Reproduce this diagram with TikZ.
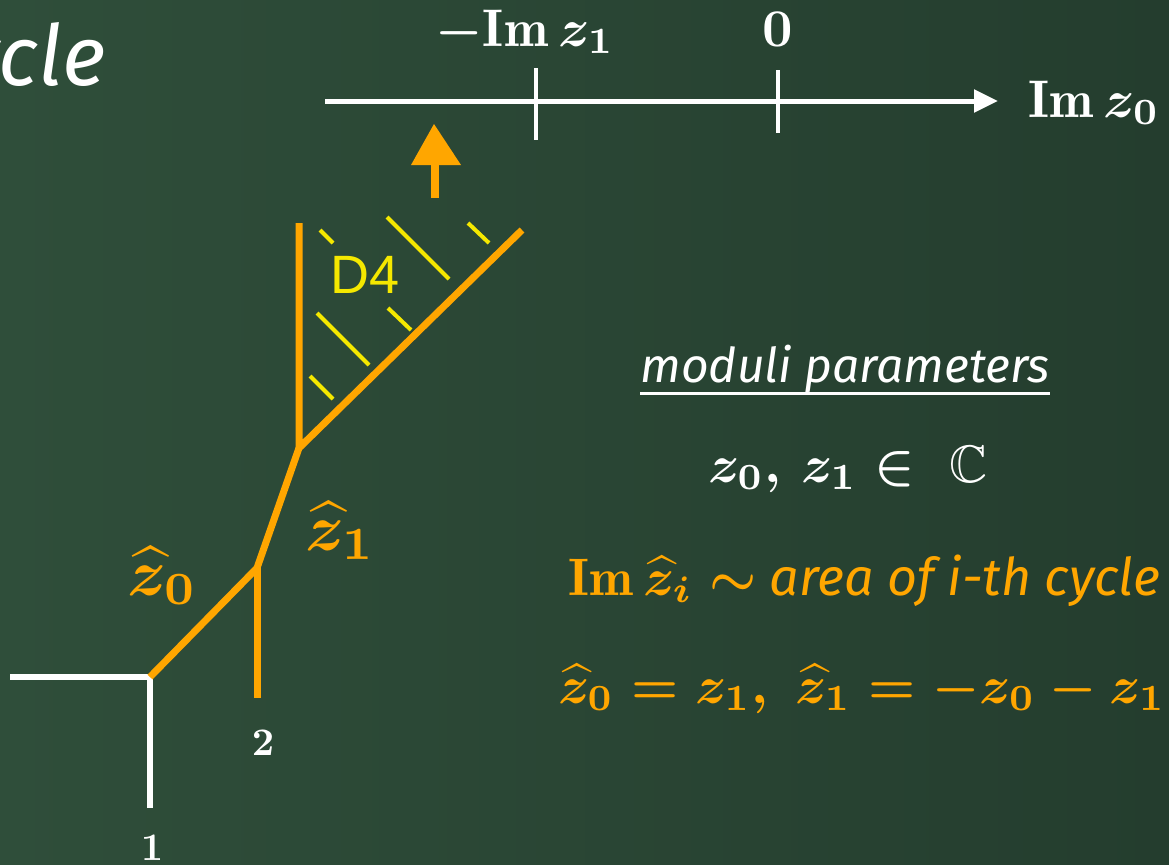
\documentclass[tikz,border=0pt]{standalone}
\usepackage{amsmath,amssymb}
\usepackage{graphicx}
\usepackage{fontspec}
\newfontfamily\chalkfont{Fira Sans}
\usetikzlibrary{arrows.meta}

\definecolor{board}{RGB}{47,78,58}
\definecolor{boarddark}{RGB}{36,61,46}
\definecolor{chalkorange}{RGB}{255,166,0}
\definecolor{chalkyellow}{RGB}{245,232,0}

% bold math at 10pt design size, blown up
\newcommand{\chalkmath}[2]{\scalebox{#1}{$#2$}}

\begin{document}
\begin{tikzpicture}[x=0.5pt, y=-0.5pt,
  webwhite/.style={white, line width=3pt},
  weborange/.style={chalkorange, line width=3.5pt},
  hatch/.style={chalkyellow, line width=2pt},
  mathlbl/.style={inner sep=0pt, font=\boldmath\fontsize{10}{12}\selectfont},
  handtext/.style={inner sep=0pt, font=\chalkfont\itshape\fontsize{24}{28}\selectfont}]
  % chalkboard
  \useasboundingbox (0,0) rectangle (1169,864);
  \clip (0,0) rectangle (1169,864);
  \shade[left color=board, right color=boarddark] (0,0) rectangle (1169,864);
  \node[white, anchor=base east, inner sep=0pt, font=\chalkfont\itshape\fontsize{42}{48}\selectfont] (title) at (106,85) {cycle};

  % Im z_0 axis
  \coordinate (axL) at (325,101);
  \coordinate (axR) at (998,101);
  \draw[white, line width=2.5pt, -{Triangle[length=12pt, width=11pt]}] (axL) -- (axR);
  \draw[white, line width=2pt] (536,68) -- (536,140);
  \draw[white, line width=2pt] (778,70) -- (778,133);
  \node[mathlbl, white, anchor=base] (tickA) at (525,46) {\chalkmath{2.65}{-\mathrm{Im}\, z_1}};
  \node[mathlbl, white, anchor=base] (tickB) at (778,46) {\chalkmath{2.65}{0}};
  \node[mathlbl, white, anchor=base west] (axname) at (1028,117) {\chalkmath{2.65}{\mathrm{Im}\, z_0}};

  % chalk arrow
  \draw[chalkorange, line width=4pt] (435,198) -- (435,155);
  \fill[chalkorange] (411,165) -- (434,124) -- (461,165) -- cycle;

  % web diagram
  \coordinate (v0) at (150,677);
  \coordinate (v1) at (257,568);
  \coordinate (v2) at (299,448);
  \coordinate (e1) at (150,808);
  \coordinate (eL) at (10,677);
  \coordinate (e2) at (257,698);
  \coordinate (eT) at (299,223);
  \coordinate (eD) at (522,230);
  \draw[webwhite] (eL) -- (v0) -- (e1);
  \draw[weborange] (v0) -- (v1) -- (v2);
  \draw[weborange] (v1) -- (e2);
  \draw[weborange] (eT) -- (v2) -- (eD);

  % shaded region D4
  \draw[hatch] (320,230) -- (333,243);
  \draw[hatch] (387,217) -- (449,279);
  \draw[hatch] (468,223) -- (489,243);
  \draw[hatch] (317,313) -- (369,365);
  \draw[hatch] (388,308) -- (411,330);
  \draw[hatch] (310,376) -- (333,399);
  \node[chalkyellow, font=\fontspec{Liberation Sans}\fontsize{27}{30}\selectfont] (dfour) at (365,275) {D4};

  \node[mathlbl, chalkorange, anchor=base west] (hz0) at (127,595) {\chalkmath{3.3}{\widehat{z}_0}};
  \node[mathlbl, chalkorange, anchor=base west] (hz1) at (305,550) {\chalkmath{3.3}{\widehat{z}_1}};
  \node[mathlbl, white, anchor=base] (leg2) at (263,755) {\chalkmath{1.95}{2}};
  \node[mathlbl, white, anchor=base] (leg1) at (152,860) {\chalkmath{1.95}{1}};

  % moduli
  \node[handtext, white, anchor=base west] (mod) at (640,382) {moduli parameters};
  \draw[white, line width=1.5pt] ([yshift=-5.5pt]mod.base west) -- ([yshift=-5.5pt]mod.base east);
  \node[mathlbl, white, anchor=base west] (zz) at (708,482) {\chalkmath{2.64}{z_0,\, z_1 \in\ \mathbb{C}}};
  \node[mathlbl, chalkorange, anchor=base west] (imz) at (568,595) {\chalkmath{2.64}{\mathrm{Im}\, \widehat{z}_i \sim}};
  \node[handtext, chalkorange, anchor=base west, font=\chalkfont\itshape\fontsize{26}{30}\selectfont] (area) at ([xshift=6pt]imz.base east) {area of i-th cycle};
  \node[mathlbl, chalkorange, anchor=base west] (rel) at (558,703) {\chalkmath{2.64}{\widehat{z}_0 = z_1,\ \widehat{z}_1 = -z_0 - z_1}};
\end{tikzpicture}
\end{document}
